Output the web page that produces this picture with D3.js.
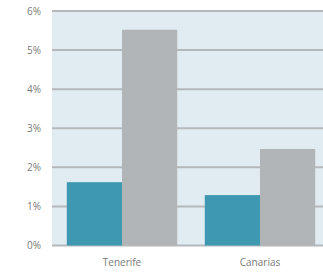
<!DOCTYPE html>
<html>
<head>
<meta charset="utf-8">
<script src="https://cdn.jsdelivr.net/npm/d3@7"></script>
<style>
  body { margin: 0; background: #fff; }
  text { font-family: "Open Sans", sans-serif; fill: #7a7a7a; }
</style>
</head>
<body>
<div id="chart"></div>
<script>
// data
let categories = ["Tenerife", "Canarias"]
let series = ["a", "b"]
let valuesA = [1.62, 1.29]
let valuesB = [5.52, 2.47]
let yTicks = [0, 1, 2, 3, 4, 5, 6]

let width = 323
let height = 273

let plotLeft = 52
let plotTop = 11
let plotBottom = 245.5

let colors = { a: "#3e98b1", b: "#b2b5b8" }

let svg = d3.select("#chart")
    .append("svg")
    .attr("width", width)
    .attr("height", height)

let x0 = d3.scaleBand()
    .domain(categories)
    .range([53, 329])
    .paddingInner(0.2)
    .paddingOuter(0.1)

let x1 = d3.scaleBand()
    .domain(series)
    .range([0, x0.bandwidth()])

let y = d3.scaleLinear()
    .domain([0, 6])
    .range([plotBottom, plotTop])

// background
svg.append("rect")
    .attr("x", plotLeft)
    .attr("y", plotTop)
    .attr("width", width - plotLeft)
    .attr("height", plotBottom - plotTop)
    .attr("fill", "#e1ecf2")

// gridlines
svg.append("g")
    .selectAll("line")
    .data(yTicks)
    .join("line")
    .attr("x1", plotLeft)
    .attr("x2", width)
    .attr("y1", d => y(d))
    .attr("y2", d => y(d))
    .attr("stroke", "#b4b8bb")
    .attr("stroke-width", 2)

// bars
let rows = categories.map((c, i) => ({ cat: c, a: valuesA[i], b: valuesB[i] }))

let groups = svg.append("g")
    .selectAll("g")
    .data(rows)
    .join("g")
    .attr("transform", d => `translate(${x0(d.cat)},0)`)

groups.selectAll("rect")
    .data(d => series.map(s => ({ key: s, value: d[s] })))
    .join("rect")
    .attr("x", d => x1(d.key))
    .attr("y", d => y(d.value))
    .attr("width", x1.bandwidth())
    .attr("height", d => y(0) - y(d.value))
    .attr("fill", d => colors[d.key])

// y axis labels
let yAxis = d3.axisLeft(y)
    .tickValues(yTicks)
    .tickFormat(d => d + "%")
    .tickSize(0)
    .tickPadding(11)

svg.append("g")
    .attr("transform", `translate(${plotLeft},0)`)
    .call(yAxis)
    .call(g => g.select(".domain").remove())
    .selectAll("text")
    .style("font-size", "10px")
    .attr("fill", "#7a7a7a")

// x axis labels
let xAxis = d3.axisBottom(x0)
    .tickSize(0)
    .tickPadding(13)

svg.append("g")
    .attr("transform", `translate(0,${plotBottom})`)
    .call(xAxis)
    .call(g => g.select(".domain").remove())
    .selectAll("text")
    .style("font-size", "10px")
    .attr("fill", "#7a7a7a")
</script>
</body>
</html>
